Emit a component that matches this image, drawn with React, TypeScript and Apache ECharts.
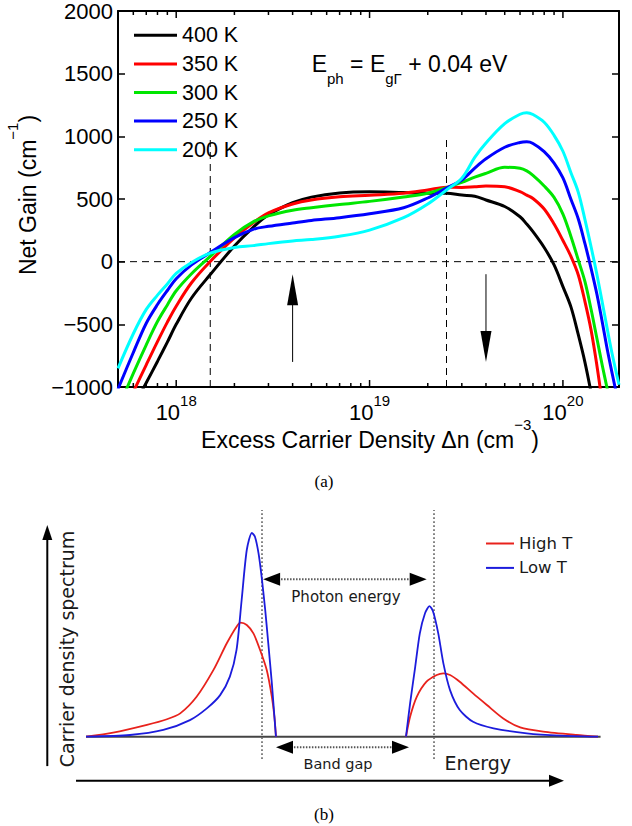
import React, { useEffect, useRef } from 'react';
import * as echarts from 'echarts';

// ---------- Panel (a): net gain vs excess carrier density ----------
const densities = [
  5e17, 6e17, 7e17, 8e17, 9e17, 1e18, 1.2e18, 1.5e18, 2e18, 2.5e18, 3e18, 4e18, 5e18, 7e18,
  1e19, 1.5e19, 2e19, 2.5e19, 3e19, 3.5e19, 4e19, 5e19, 6e19, 6.5e19, 7e19, 8e19, 9e19,
  1e20, 1.1e20, 1.2e20, 1.3e20, 1.4e20, 1.5e20, 1.6e20, 1.7e20, 1.8e20, 1.95e20,
];
const gain400K = [
  -1390, -1160, -966, -796, -642, -500, -290, -103, 125, 274, 374, 470, 515, 548,
  557, 551, 546, 546, 531, 522, 492, 440, 358, 300, 239, 113, -26,
  -199, -361, -581, -803, -1048, null, null, null, null, null,
];
const gain350K = [
  -1303, -1040, -823, -638, -482, -355, -168, 2, 189, 310, 389, 460, 492, 517,
  530, 546, 572, 594, 592, 598, 604, 598, 559, 531, 504, 420, 300,
  169, 43, -104, -319, -550, -832, -1136, null, null, null,
];
const gain300K = [
  -1175, -891, -663, -478, -345, -232, -96, 42, 217, 317, 365, 410, 430, 456,
  481, 516, 546, 591, 632, 674, 705, 753, 745, 724, 688, 604, 513,
  380, 201, 15, -159, -384, -615, -832, -1024, null, null,
];
const gain250K = [
  -1016, -725, -491, -342, -230, -137, -26, 73, 192, 258, 282, 309, 329, 351,
  382, 430, 508, 588, 652, 747, 821, 913, 951, 956, 943, 878, 787,
  668, 498, 342, 143, -57, -262, -487, -709, -896, -1151,
];
const gain200K = [
  -851, -575, -381, -267, -178, -94, -6, 68, 113, 128, 144, 165, 176, 203,
  252, 351, 460, 572, 666, 832, 947, 1101, 1176, 1189, 1174, 1112, 1008,
  881, 710, 555, 336, 115, -105, -330, -546, -741, -982,
];
const tempLabels = ['400 K', '350 K', '300 K', '250 K', '200 K'];
const tempGains = [gain400K, gain350K, gain300K, gain250K, gain200K];
const tempColors = ['#000000', '#ff0000', '#00e600', '#0000ff', '#00ffff'];

const majorXTicks = [1e18, 1e19, 1e20];
const minorXTicks = [
  6e17, 7e17, 8e17, 9e17,
  2e18, 3e18, 4e18, 5e18, 6e18, 7e18, 8e18, 9e18,
  2e19, 3e19, 4e19, 5e19, 6e19, 7e19, 8e19, 9e19,
];
const densityMin = 5e17;
const densityMax = 1.95e20;
const gainMin = -1000;
const gainMax = 2000;
const gainStep = 500;
const zeroGain = 0;
const thresholdDensities = [1.5e18, 2.5e19]; // dashed verticals
const thresholdGainSpan = [-1000, 1000];
const arrowUp = { density: 4e18, from: -800, to: -100 };
const arrowDown = { density: 4e19, from: -100, to: -800 };

// ---------- Panel (b): carrier density spectrum schematic ----------
const energyHighT = [
  0, 0.53, 1.19, 1.58, 1.84, 2.16, 2.49, 2.75, 2.94, 3.02, 3.14, 3.27, 3.4, 3.53, 3.63, 3.68, 3.71,
  null,
  6.25, 6.33, 6.46, 6.65, 6.85, 6.98, 7.11, 7.3, 7.56, 7.83, 8.15, 8.48, 8.93, 9.58, 10.0,
];
const spectrumHighT = [
  0, 0.019, 0.056, 0.083, 0.111, 0.19, 0.318, 0.445, 0.524, 0.543, 0.532, 0.492, 0.413, 0.318, 0.19, 0.095, 0,
  null,
  0, 0.095, 0.19, 0.262, 0.294, 0.302, 0.294, 0.262, 0.206, 0.151, 0.087, 0.044, 0.024, 0.008, 0,
];
const energyLowT = [
  0, 0.86, 1.51, 2.03, 2.36, 2.62, 2.81, 2.94, 3.04, 3.14, 3.24, 3.3, 3.37, 3.43, 3.5, 3.56, 3.63, 3.68, 3.71,
  null,
  6.25, 6.33, 6.43, 6.52, 6.62, 6.71, 6.78, 6.88, 6.98, 7.11, 7.3, 7.56, 7.96, 8.61, 9.26, 10.0,
];
const spectrumLowT = [
  0, 0.008, 0.032, 0.079, 0.135, 0.198, 0.286, 0.413, 0.651, 0.889, 0.971, 0.952, 0.873, 0.762, 0.604, 0.445, 0.254, 0.095, 0,
  null,
  0, 0.159, 0.333, 0.492, 0.587, 0.622, 0.595, 0.492, 0.349, 0.222, 0.127, 0.071, 0.04, 0.016, 0.005, 0,
];
const photonEdges = [3.4375, 6.797]; // dotted verticals
const photonSpan = [-0.106, 1.08];
const photonArrow = { from: 3.46, to: 6.654, level: 0.75 };
const gapArrow = { from: 3.711, to: 6.309, level: -0.05 };
const energyAxisArrow = { from: -0.195, to: 9.336, level: -0.21 };
const densityAxisArrow = { at: -0.756, from: -0.14, to: 1.008 };
const baselineSpan = [0, 10.05];

const SANS = 'Liberation Sans';
const DEJAVU = 'DejaVu Sans';
const SERIF = 'Liberation Serif';

type Seg = {
  from: [number, number];
  to: [number, number];
  head: 0 | 1 | 2;
  width: number;
  color: string;
  headColor?: string;
  dash?: number[];
  headLen?: number;
  headW?: number;
};

function segSeries(segs: Seg[], xi: number, yi: number, z: number) {
  return {
    type: 'custom',
    xAxisIndex: xi,
    yAxisIndex: yi,
    z,
    silent: true,
    encode: { x: [0, 2], y: [1, 3] },
    data: segs.map((s) => [s.from[0], s.from[1], s.to[0], s.to[1]]),
    renderItem: (params: any, api: any) => {
      const s = segs[params.dataIndex];
      const p1 = api.coord([api.value(0), api.value(1)]);
      const p2 = api.coord([api.value(2), api.value(3)]);
      const dx = p2[0] - p1[0];
      const dy = p2[1] - p1[1];
      const len = Math.hypot(dx, dy) || 1;
      const ux = dx / len;
      const uy = dy / len;
      const L = s.headLen || 0;
      const W = s.headW || 0;
      let a = p1;
      let b = p2;
      if (s.head >= 1) b = [p2[0] - ux * L * 0.7, p2[1] - uy * L * 0.7];
      if (s.head === 2) a = [p1[0] + ux * L * 0.7, p1[1] + uy * L * 0.7];
      const lineStyle: any = { stroke: s.color, lineWidth: s.width, fill: null };
      if (s.dash) lineStyle.lineDash = s.dash;
      const children: any[] = [
        { type: 'line', shape: { x1: a[0], y1: a[1], x2: b[0], y2: b[1] }, style: lineStyle },
      ];
      const head = (tip: number[], ddx: number, ddy: number) => {
        const bx = tip[0] - ddx * L;
        const by = tip[1] - ddy * L;
        const nx = -ddy;
        const ny = ddx;
        return {
          type: 'polygon',
          shape: { points: [[tip[0], tip[1]], [bx + nx * W, by + ny * W], [bx - nx * W, by - ny * W]] },
          style: { fill: s.headColor || s.color },
        };
      };
      if (s.head >= 1) children.push(head(p2, ux, uy));
      if (s.head === 2) children.push(head(p1, -ux, -uy));
      return { type: 'group', children };
    },
  };
}

function pairs(xs: (number | null)[], ys: (number | null)[]) {
  return xs.map((x, i) => {
    const y = ys[i];
    if (x === null || y === null || y === undefined) return [x === null ? '-' : x, '-'];
    return [x, y];
  });
}

export default function App() {
  const ref = useRef<HTMLDivElement>(null);

  useEffect(() => {
    if (!ref.current) return;
    const chart = echarts.init(ref.current, undefined, { renderer: 'svg' });

    const topRefSegs: Seg[] = [
      { from: [densityMin, zeroGain], to: [densityMax, zeroGain], head: 0, width: 1, color: '#000', dash: [7, 5] },
      ...thresholdDensities.map((d) => ({
        from: [d, thresholdGainSpan[0]] as [number, number],
        to: [d, thresholdGainSpan[1]] as [number, number],
        head: 0 as const,
        width: 1,
        color: '#000',
        dash: [7, 5],
      })),
    ];
    const topArrowSegs: Seg[] = [
      { from: [arrowUp.density, arrowUp.from], to: [arrowUp.density, arrowUp.to], head: 1, width: 1, color: '#000', headLen: 31, headW: 5.5 },
      { from: [arrowDown.density, arrowDown.from], to: [arrowDown.density, arrowDown.to], head: 1, width: 1, color: '#000', headLen: 31, headW: 5.5 },
    ];
    const bottomSegs: Seg[] = [
      { from: [baselineSpan[0], 0], to: [baselineSpan[1], 0], head: 0, width: 2, color: '#444' },
      ...photonEdges.map((e) => ({
        from: [e, photonSpan[0]] as [number, number],
        to: [e, photonSpan[1]] as [number, number],
        head: 0 as const,
        width: 1.6,
        color: '#666',
        dash: [1.6, 2.4],
      })),
      { from: [photonArrow.from, photonArrow.level], to: [photonArrow.to, photonArrow.level], head: 2, width: 2, color: '#555', headColor: '#000', dash: [1.5, 1.5], headLen: 17, headW: 6.5 },
      { from: [gapArrow.from, gapArrow.level], to: [gapArrow.to, gapArrow.level], head: 2, width: 2, color: '#555', headColor: '#000', dash: [1.5, 1.5], headLen: 17, headW: 6.5 },
      { from: [energyAxisArrow.from, energyAxisArrow.level], to: [energyAxisArrow.to, energyAxisArrow.level], head: 1, width: 2, color: '#000', headLen: 15, headW: 6 },
      { from: [densityAxisArrow.at, densityAxisArrow.from], to: [densityAxisArrow.at, densityAxisArrow.to], head: 1, width: 2, color: '#000', headLen: 15, headW: 5 },
    ];

    const tickSeries = {
      type: 'custom',
      xAxisIndex: 0,
      yAxisIndex: 0,
      z: 6,
      silent: true,
      encode: { x: 0, y: 1 },
      data: [...majorXTicks, ...minorXTicks].map((v) => [v, 0]),
      renderItem: (params: any, api: any) => {
        const v = api.value(0);
        const major = params.dataIndex < majorXTicks.length;
        const pb = api.coord([v, gainMin]);
        const pt = api.coord([v, gainMax]);
        const L = major ? 7 : 4;
        const st = { stroke: '#000', lineWidth: 1.5 };
        return {
          type: 'group',
          children: [
            { type: 'line', shape: { x1: pb[0], y1: pb[1], x2: pb[0], y2: pb[1] - L }, style: st },
            { type: 'line', shape: { x1: pt[0], y1: pt[1], x2: pt[0], y2: pt[1] + L }, style: st },
          ],
        };
      },
    };

    const gainFmt = (v: number) => (v < 0 ? '\u2212' + Math.abs(v) : String(v));
    const expFmt = (v: number) => {
      const e = Math.log10(v);
      const r = Math.round(e);
      if (Math.abs(e - r) > 1e-6) return '';
      return `{b|10}{sup|${r}}`;
    };

    const frameLine = { show: true, onZero: false, lineStyle: { color: '#000', width: 2 } };

    const option: any = {
      animation: false,
      backgroundColor: '#ffffff',
      textStyle: { fontFamily: SANS },
      grid: [
        { left: 118, top: 11, width: 501, height: 376 },
        { left: 34.8, top: 484.7, width: 588.8, height: 336 },
      ],
      xAxis: [
        {
          type: 'log', logBase: 10, gridIndex: 0, min: densityMin, max: densityMax, position: 'bottom',
          axisLine: frameLine,
          axisTick: { show: false },
          splitLine: { show: false },
          axisLabel: {
            margin: 5.5,
            color: '#000',
            formatter: expFmt,
            rich: {
              b: { fontSize: 22, lineHeight: 40, fontFamily: SANS, color: '#000' },
              sup: { fontSize: 15, lineHeight: 15, verticalAlign: 'top', fontFamily: SANS, color: '#000' },
            },
          },
        },
        {
          type: 'log', logBase: 10, gridIndex: 0, min: densityMin, max: densityMax, position: 'top',
          axisLine: frameLine,
          axisTick: { show: false }, axisLabel: { show: false }, splitLine: { show: false },
        },
        {
          type: 'value', gridIndex: 1, min: -1, max: 10.5, show: false, splitLine: { show: false },
          axisLine: { onZero: false },
        },
      ],
      yAxis: [
        {
          type: 'value', gridIndex: 0, min: gainMin, max: gainMax, interval: gainStep, position: 'left',
          axisLine: frameLine,
          axisTick: { show: true, inside: true, length: 7, lineStyle: { color: '#000', width: 1.5 } },
          splitLine: { show: false },
          axisLabel: { margin: 5, color: '#000', fontSize: 22, fontFamily: SANS, formatter: gainFmt },
        },
        {
          type: 'value', gridIndex: 0, min: gainMin, max: gainMax, interval: gainStep, position: 'right',
          axisLine: frameLine,
          axisTick: { show: true, inside: true, length: 7, lineStyle: { color: '#000', width: 1.5 } },
          splitLine: { show: false }, axisLabel: { show: false },
        },
        {
          type: 'value', gridIndex: 1, min: -0.4, max: 1.2, show: false, splitLine: { show: false },
          axisLine: { onZero: false },
        },
      ],
      legend: [
        {
          data: tempLabels,
          orient: 'vertical',
          left: 134,
          top: 24.3,
          padding: 0,
          icon: 'rect',
          itemWidth: 43,
          itemHeight: 3,
          itemGap: 6.6,
          selectedMode: false,
          textStyle: { fontSize: 21.5, lineHeight: 20, fontFamily: SANS, color: '#000' },
        },
        {
          data: ['High T', 'Low T'],
          orient: 'vertical',
          left: 486,
          top: 535,
          padding: 0,
          icon: 'rect',
          itemWidth: 28,
          itemHeight: 2,
          itemGap: 7.4,
          selectedMode: false,
          textStyle: { fontSize: 16.5, lineHeight: 17, fontFamily: DEJAVU, color: '#1a1a1a' },
        },
      ],
      series: [
        segSeries(topRefSegs, 0, 0, 1),
        ...tempLabels.map((name, i) => ({
          name,
          type: 'line',
          xAxisIndex: 0,
          yAxisIndex: 0,
          z: 2,
          data: pairs(densities, tempGains[i]),
          showSymbol: false,
          smooth: 0.35,
          clip: true,
          color: tempColors[i],
          lineStyle: { color: tempColors[i], width: 3 },
        })),
        segSeries(topArrowSegs, 0, 0, 3),
        tickSeries,
        segSeries(bottomSegs, 2, 2, 1),
        {
          name: 'High T',
          type: 'line',
          xAxisIndex: 2,
          yAxisIndex: 2,
          z: 2,
          data: pairs(energyHighT, spectrumHighT),
          showSymbol: false,
          smooth: 0.25,
          color: '#e8221c',
          lineStyle: { color: '#e8221c', width: 1.8 },
        },
        {
          name: 'Low T',
          type: 'line',
          xAxisIndex: 2,
          yAxisIndex: 2,
          z: 2,
          data: pairs(energyLowT, spectrumLowT),
          showSymbol: false,
          smooth: 0.25,
          color: '#1c1cdc',
          lineStyle: { color: '#1c1cdc', width: 1.8 },
        },
      ],
      graphic: [
        {
          type: 'text', x: 311.7, y: 64.3, silent: true,
          style: {
            text: '{n|E}{s|ph}{n| = E}{s|g\u0393}{n| + 0.04 eV}',
            align: 'left', verticalAlign: 'middle', fill: '#000',
            rich: {
              n: { fontSize: 23, lineHeight: 44, fontFamily: SANS, fill: '#000' },
              s: { fontSize: 15, lineHeight: 15, verticalAlign: 'bottom', fontFamily: SANS, fill: '#000' },
            },
          },
        },
        {
          type: 'text', x: 370, y: 439.7, silent: true,
          style: {
            text: '{t|Excess Carrier Density \u0394n (cm}{sup|\u22123}{t|)}',
            align: 'center', verticalAlign: 'middle', fill: '#000',
            rich: {
              t: { fontSize: 23, lineHeight: 46, fontFamily: SANS, fill: '#000' },
              sup: { fontSize: 15, lineHeight: 15, verticalAlign: 'top', fontFamily: SANS, fill: '#000' },
            },
          },
        },
        {
          type: 'text', x: 27.5, y: 195, rotation: Math.PI / 2, silent: true,
          style: {
            text: '{t|Net Gain (cm}{sup|\u22121}{t|)}',
            align: 'center', verticalAlign: 'middle', fill: '#000',
            rich: {
              t: { fontSize: 23, lineHeight: 46, fontFamily: SANS, fill: '#000' },
              sup: { fontSize: 15, lineHeight: 15, verticalAlign: 'top', fontFamily: SANS, fill: '#000' },
            },
          },
        },
        {
          type: 'text', x: 324, y: 481.7, silent: true,
          style: { text: '(a)', fontSize: 17, fontFamily: SERIF, fill: '#000', align: 'center', verticalAlign: 'middle' },
        },
        {
          type: 'text', x: 324, y: 814, silent: true,
          style: { text: '(b)', fontSize: 17, fontFamily: SERIF, fill: '#000', align: 'center', verticalAlign: 'middle' },
        },
        {
          type: 'text', x: 346, y: 597, silent: true,
          style: { text: 'Photon energy', fontSize: 15, fontFamily: DEJAVU, fill: '#1a1a1a', align: 'center', verticalAlign: 'middle' },
        },
        {
          type: 'text', x: 338, y: 763.5, silent: true,
          style: { text: 'Band gap', fontSize: 14.5, fontFamily: DEJAVU, fill: '#1a1a1a', align: 'center', verticalAlign: 'middle' },
        },
        {
          type: 'text', x: 444.6, y: 763, silent: true,
          style: { text: 'Energy', fontSize: 19, fontFamily: DEJAVU, fill: '#1a1a1a', align: 'left', verticalAlign: 'middle' },
        },
        {
          type: 'text', x: 67, y: 649, rotation: Math.PI / 2, silent: true,
          style: { text: 'Carrier density spectrum', fontSize: 19, fontFamily: DEJAVU, fill: '#1a1a1a', align: 'center', verticalAlign: 'middle' },
        },
      ],
    };

    chart.setOption(option);
    return () => {
      chart.dispose();
    };
  }, []);

  return (
    <div
      ref={ref}
      style={{ position: 'absolute', left: 0, top: 0, width: 632, height: 826, background: '#fff' }}
    />
  );
}
